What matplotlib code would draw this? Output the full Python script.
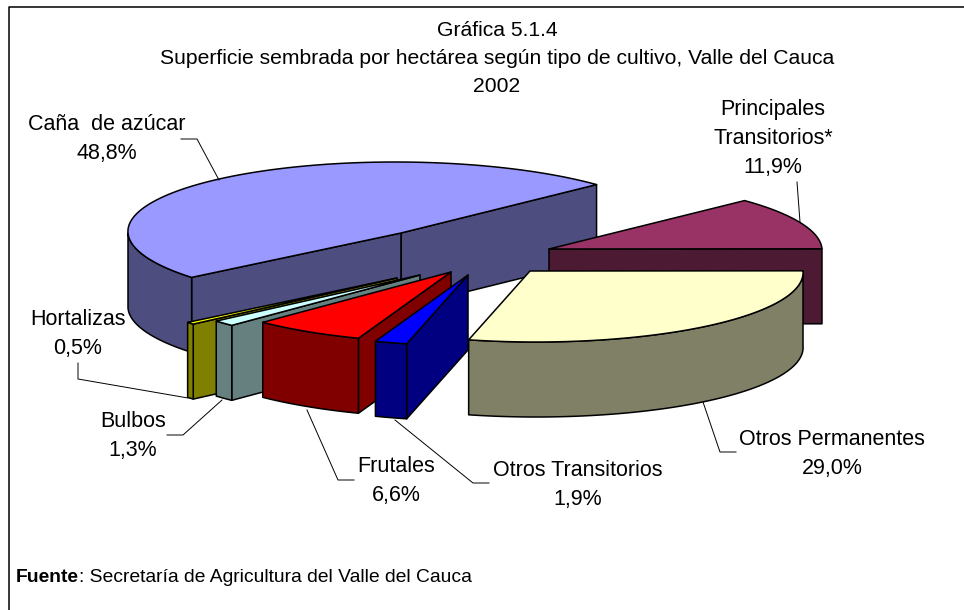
import numpy as np
import matplotlib
matplotlib.use("Agg")
import matplotlib.pyplot as plt
from matplotlib.patches import Polygon

plt.rcParams["font.family"] = ["Liberation Sans", "DejaVu Sans"]

# data, clockwise from the top of the pie
categories = ["Caña  de azúcar", "Principales\nTransitorios*", "Otros Permanentes",
              "Otros Transitorios", "Frutales", "Bulbos", "Hortalizas"]
shares = [48.8, 11.9, 29.0, 1.9, 6.6, 1.3, 0.5]

top_colors = ["#9999FF", "#993366", "#FFFFCC", "#0000FF", "#FF0000", "#CCFFFF", "#FFFF00"]
side_colors = ["#4D4D80", "#4D1A33", "#808066", "#000080", "#800000", "#668080", "#808000"]

# apex of each exploded slice in pixels
apex_x = [401, 549, 530, 468, 451, 420, 397]
apex_y = [233, 249, 271, 275, 272, 275, 278]
draw_order = [0, 1, 2, 6, 5, 4, 3]

RX, RY, DEPTH = 273, 71, 75
SKEW = 6  # the ellipse in the original leans slightly
START_ANGLE = 43  # where the first slice begins, degrees


def rim(ax0, ay0, t0, t1):
    t = np.radians(np.linspace(t0, t1, max(2, int(abs(t1 - t0) * 2))))
    return ax0 + RX * np.cos(t) - SKEW * np.sin(t), ay0 - RY * np.sin(t)


def draw_slice(ax, i, t0, t1):
    ax0, ay0 = apex_x[i], apex_y[i]
    style = dict(facecolor=side_colors[i], edgecolor="black", linewidth=1.1, joinstyle="round")

    # cut faces that look towards the viewer
    for t, visible in ((t0, np.cos(np.radians(t0)) > 0), (t1, np.cos(np.radians(t1)) < 0)):
        if visible:
            px, py = rim(ax0, ay0, t, t + 0.01)
            pts = [(ax0, ay0), (px[0], py[0]), (px[0], py[0] + DEPTH), (ax0, ay0 + DEPTH)]
            ax.add_patch(Polygon(pts, closed=True, **style))

    # outer wall, only the front half of the ellipse
    if t0 < 0:
        lo, hi = max(t0, -180), min(t1, 0)
    else:
        lo, hi = max(t0, 180), min(t1, 360)
    if lo < hi:
        x, y = rim(ax0, ay0, lo, hi)
        pts = np.r_[np.c_[x, y], np.c_[x[::-1], y[::-1] + DEPTH]]
        ax.add_patch(Polygon(pts, closed=True, **style))

    x, y = rim(ax0, ay0, t0, t1)
    pts = np.r_[[(ax0, ay0)], np.c_[x, y]]
    ax.add_patch(Polygon(pts, closed=True, facecolor=top_colors[i], edgecolor="black",
                         linewidth=1.1, joinstyle="round"))


def main():
    fig = plt.figure(figsize=(9.64, 6.10), dpi=100)
    ax = fig.add_axes([0, 0, 1, 1])
    ax.set_xlim(0, 964)
    ax.set_ylim(610, 0)
    ax.axis("off")

    # chart frame
    ax.plot([9, 9, 964], [610, 7, 7], color="black", linewidth=1.1)

    # slice angles, going clockwise from START_ANGLE; the first one goes the other way round
    spans = np.array(shares) / sum(shares) * 360
    angles = {0: (START_ANGLE, START_ANGLE + spans[0])}
    t = START_ANGLE
    for i in range(1, len(shares)):
        angles[i] = (t - spans[i], t)
        t -= spans[i]

    for i in draw_order:
        draw_slice(ax, i, *angles[i])

    # leader lines
    leaders = [
        ([181, 197, 219], [139, 139, 180]),
        ([797, 800], [182, 222]),
        ([703, 720, 736], [402, 452, 452]),
        ([395, 473, 489], [420, 483, 483]),
        ([307, 338, 354], [410, 480, 480]),
        ([222, 183, 167], [400, 435, 435]),
        ([188, 78, 78], [398, 379, 363]),
    ]
    for xs, ys in leaders:
        ax.plot(xs, ys, color="black", linewidth=0.7)

    # labels
    label_xy = [(107, 139), (773, 139), (832, 454), (578, 485), (396, 481), (133, 436), (78, 334)]
    for name, share, (lx, ly) in zip(categories, shares, label_xy):
        txt = f"{name}\n{share:.1f}%".replace(".", ",")
        ax.text(lx, ly, txt, ha="center", va="center", fontsize=15.5, linespacing=1.5, color="black")

    ax.text(497, 58, "Gráfica 5.1.4\nSuperficie sembrada por hectárea según tipo de cultivo, Valle del Cauca\n2002",
            ha="center", va="center", fontsize=15.2, linespacing=1.6, color="black")

    source = ax.text(16, 578, "Fuente", fontsize=13.85, fontweight="bold", va="center", ha="left")
    ax.annotate(": Secretaría de Agricultura del Valle del Cauca", xy=(1, 0), xycoords=source,
                fontsize=13.85, va="bottom", ha="left")

    fig.savefig("out.png", dpi=100)
    plt.close(fig)


if __name__ == "__main__":
    main()
